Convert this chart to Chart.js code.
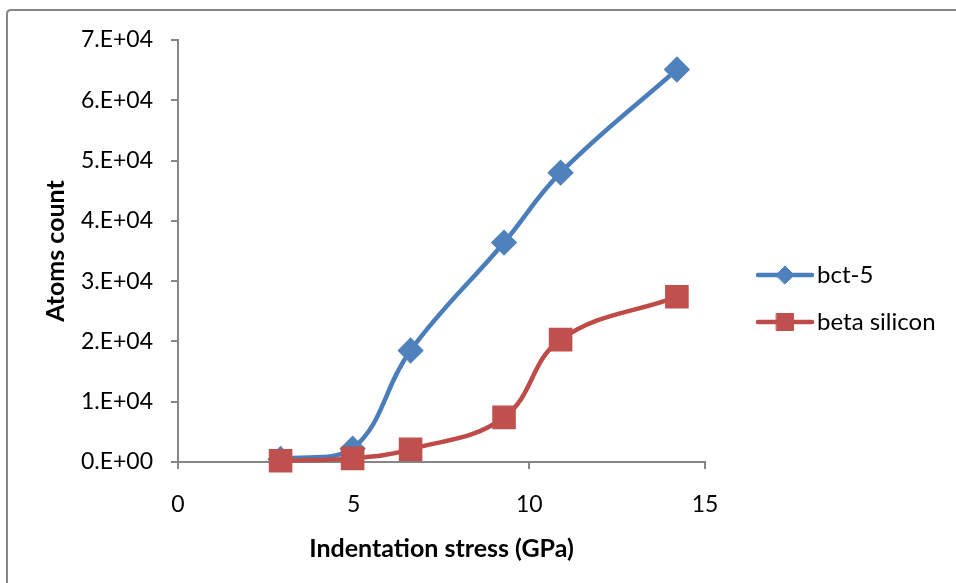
<!DOCTYPE html>
<html lang="en">
  <head>
    <meta charset="UTF-8" />
    <title>Atoms count vs indentation stress</title>
    <script src="https://cdn.jsdelivr.net/npm/chart.js"></script>
    <style>
      body { margin: 0; background: #fff; }
    </style>
  </head>
  <body>
    <canvas id="atomsChart" width="956" height="583"></canvas>
    <script>
      // values
      var stress = [2.92, 4.97, 6.62, 9.28, 10.89, 14.2];
      var bct5 = [500, 2200, 18500, 36400, 48000, 65100];
      var betaSilicon = [200, 600, 2100, 7400, 20300, 27400];
      var seriesNames = ["bct-5", "beta silicon"];
      var xTicks = [0, 5, 10, 15];
      var yTicks = [0, 10000, 20000, 30000, 40000, 50000, 60000, 70000];

      var axisGray = "#868686";
      var blueLine = "#4a7ebb", blueMark = "#4f81bd";
      var redLine = "#be4b48", redMark = "#c0504d";

      function pairs(xs, ys) {
        return xs.map(function (x, i) { return { x: x, y: ys[i] }; });
      }

      function fmtY(v) {
        if (v === 0) return "0.E+00";
        return v / 10000 + ".E+04";
      }

      // frame + legend drawn by hand (Excel style: line with marker in the middle)
      var extras = {
        id: "extras",
        beforeDraw: function (chart) {
          var ctx = chart.ctx;
          ctx.save();
          ctx.strokeStyle = axisGray;
          ctx.lineWidth = 2;
          ctx.beginPath();
          ctx.moveTo(7, 583);
          ctx.lineTo(7, 14);
          ctx.quadraticCurveTo(7, 10, 11, 10);
          ctx.lineTo(956, 10);
          ctx.stroke();
          ctx.restore();
        },
        afterDraw: function (chart) {
          var ctx = chart.ctx;
          var x0 = chart.chartArea.right + 53;
          var rows = [
            { y: 275, line: blueLine, fill: blueMark, style: "rectRot", r: 9 },
            { y: 322, line: redLine, fill: redMark, style: "rect", r: 12 }
          ];
          ctx.save();
          rows.forEach(function (row, i) {
            ctx.strokeStyle = row.line;
            ctx.lineWidth = 4.5;
            ctx.lineCap = "round";
            ctx.beginPath();
            ctx.moveTo(x0, row.y);
            ctx.lineTo(x0 + 54, row.y);
            ctx.stroke();
            ctx.fillStyle = row.fill;
            ctx.strokeStyle = row.fill;
            ctx.lineWidth = 1;
            Chart.helpers.drawPoint(ctx, { pointStyle: row.style, radius: row.r, borderWidth: 1, rotation: 0 }, x0 + 27, row.y);
            ctx.fillStyle = "#000";
            ctx.font = "24px Lato";
            ctx.textBaseline = "middle";
            ctx.textAlign = "left";
            ctx.fillText(seriesNames[i], x0 + 59, row.y);
          });
          ctx.restore();
        }
      };

      var ctx = document.getElementById("atomsChart").getContext("2d");
      var atomsChart = new Chart(ctx, {
        type: "scatter",
        data: {
          datasets: [
            {
              label: seriesNames[0],
              data: pairs(stress, bct5),
              showLine: true,
              tension: 0.4,
              borderColor: blueLine,
              borderWidth: 4.5,
              backgroundColor: blueMark,
              pointBorderColor: blueMark,
              pointStyle: "rectRot",
              pointRadius: 10,
              pointHoverRadius: 10,
              order: 1
            },
            {
              label: seriesNames[1],
              data: pairs(stress, betaSilicon),
              showLine: true,
              tension: 0.4,
              borderColor: redLine,
              borderWidth: 4.5,
              backgroundColor: redMark,
              pointBorderColor: redMark,
              pointStyle: "rect",
              pointRadius: 13.5,
              pointHoverRadius: 13.5,
              order: 0
            }
          ]
        },
        options: {
          responsive: false,
          animation: false,
          clip: false,
          layout: { padding: { left: 0, right: 251, top: 40, bottom: 0 } },
          plugins: { legend: { display: false }, tooltip: { enabled: false } },
          scales: {
            x: {
              type: "linear",
              min: 0,
              max: 15,
              afterBuildTicks: function (s) { s.ticks = xTicks.map(function (v) { return { value: v }; }); },
              afterFit: function (s) { s.height = 121; },
              border: { color: axisGray, width: 2 },
              grid: { drawOnChartArea: false, drawTicks: true, tickLength: 7, color: axisGray, lineWidth: 2 },
              ticks: { color: "#000", padding: 22, font: { family: "Lato", size: 23 } },
              title: {
                display: true,
                text: "Indentation stress (GPa)",
                color: "#000",
                font: { family: "Lato", size: 25, weight: "bold" },
                padding: { top: 0, bottom: 19 }
              }
            },
            y: {
              type: "linear",
              min: 0,
              max: 70000,
              afterBuildTicks: function (s) { s.ticks = yTicks.map(function (v) { return { value: v }; }); },
              afterFit: function (s) { s.width = 178; },
              border: { color: axisGray, width: 2 },
              grid: { drawOnChartArea: false, drawTicks: true, tickLength: 7, color: axisGray, lineWidth: 2 },
              ticks: { color: "#000", padding: 18, font: { family: "Lato", size: 23 }, callback: fmtY },
              title: {
                display: true,
                text: "Atoms count",
                color: "#000",
                font: { family: "Lato", size: 25, weight: "bold" },
                padding: { top: 41, bottom: 0 }
              }
            }
          }
        },
        plugins: [extras]
      });
    </script>
  </body>
</html>
